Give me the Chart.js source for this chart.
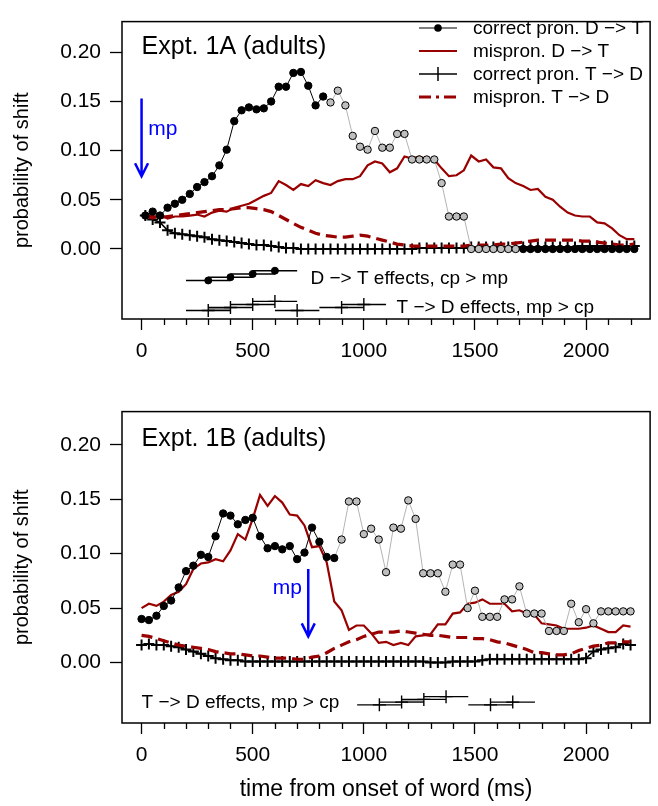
<!DOCTYPE html>
<html>
<head>
<meta charset="utf-8">
<script src="https://cdn.jsdelivr.net/npm/chart.js@4/dist/chart.umd.min.js"></script>
<style>
  body { margin: 0; background: #fff; width: 658px; height: 806px; position: relative; overflow: hidden; }
  canvas { position: absolute; left: 0; }
</style>
</head>
<body>
<canvas id="c1" width="658" height="375" style="top:0"></canvas>
<canvas id="c2" width="658" height="416" style="top:390px"></canvas>
<script>
// ---- data, Expt. 1A (frames centred on 33 ms bins) ----
const timesA = [17,50,83,117,150,183,217,250,283,317,
  350,383,417,450,483,517,550,583,617,650,
  683,717,750,783,817,850,883,917,950,983,
  1017,1050,1083,1117,1150,1183,1217,1250,1283,1317,
  1350,1383,1417,1450,1483,1517,1550,1583,1617,1650,
  1683,1717,1750,1783,1817,1850,1883,1917,1950,1983,
  2017,2050,2083,2117,2150,2183,2217];
const cpDtoT_A = [.034,.038,.034,.042,.046,.050,.056,.063,.068,.074,
  .085,.101,.130,.141,.144,.142,.143,.150,.165,.165,
  .179,.180,.166,.146,.155,.149,.161,.146,.115,.104,
  .101,.120,.103,.103,.117,.117,.091,.091,.091,.091,
  .067,.033,.033,.033,0,0,0,0,0,0,
  0,0,0,0,0,0,0,0,0,0,
  0,0,0,0,0,0,0];
const sigA = [1,1,1,1,1,1,1,1,1,1, 1,1,1,1,1,1,1,1,1,1, 1,1,1,1,1,0,0,0,0,0,
  0,0,0,0,0,0,0,0,0,0, 0,0,0,0,0,0,0,0,0,0, 0,1,1,1,1,1,1,1,1,1, 1,1,1,1,1,1,1];
const mpDtoT_A = [.033,.031,.035,.031,.033,.033,.034,.035,.033,.037,
  .039,.038,.042,.044,.046,.050,.054,.057,.069,.065,
  .060,.066,.064,.070,.067,.065,.069,.071,.071,.074,
  .085,.089,.087,.078,.082,.094,.092,.094,.091,.091,
  .082,.074,.075,.080,.095,.089,.091,.083,.082,.072,
  .067,.064,.060,.061,.053,.050,.043,.037,.034,.033,
  .033,.027,.026,.021,.014,.010,.010];
const cpTtoD_A = [.034,.030,.027,.019,.016,.015,.014,.013,.012,.010,
  .009,.008,.007,.006,.005,.004,.004,.003,.002,.001,
  .001,0,0,0,0,0,0,0,0,0,
  0,0,0,0,0,0,0,.001,.001,.001,
  .001,.001,.001,.001,.002,.002,.002,.002,.002,.002,
  .002,.002,.002,.002,.002,.002,.002,.002,.002,.003,
  .003,.003,.003,.003,.003,.003,.003];
const mpTtoD_A = [.034,.033,.032,.033,.034,.035,.036,.037,.038,.039,
  .040,.040,.041,.042,.042,.041,.040,.038,.034,.030,
  .026,.022,.019,.016,.014,.013,.012,.012,.013,.014,
  .013,.011,.009,.007,.005,.004,.003,.003,.003,.003,
  .003,.003,.003,.003,.004,.004,.004,.004,.005,.005,
  .006,.007,.008,.009,.009,.009,.009,.009,.009,.008,
  .008,.007,.006,.005,.004,.004,.005];

// ---- data, Expt. 1B ----
const timesB = [0,33,67,100,133,167,200,233,267,300,
  333,367,400,433,467,500,533,567,600,633,
  667,700,733,767,800,833,867,900,933,967,
  1000,1033,1067,1100,1133,1167,1200,1233,1267,1300,
  1333,1367,1400,1433,1467,1500,1533,1567,1600,1633,
  1667,1700,1733,1767,1800,1833,1867,1900,1933,1967,
  2000,2033,2067,2100,2133,2167,2200];
const cpDtoT_B = [.040,.039,.043,.052,.057,.069,.084,.089,.099,.097,
  .116,.137,.135,.127,.131,.133,.116,.105,.107,.104,
  .107,.095,.101,.124,.111,.097,.096,.113,.148,.148,
  .118,.123,.113,.083,.124,.123,.149,.132,.082,.082,
  .082,.065,.090,.090,.050,.066,.042,.042,.042,.058,
  .058,.070,.045,.045,.045,.029,.029,.029,.054,.037,
  .049,.036,.047,.047,.047,.047,.047];
const sigB = [1,1,1,1,1,1,1,1,1,1, 1,1,1,1,1,1,1,1,1,1, 1,1,1,1,1,1,1,0,0,0,
  0,0,0,0,0,0,0,0,0,0, 0,0,0,0,0,0,0,0,0,0, 0,0,0,0,0,0,0,0,0,0, 0,0,0,0,0,0,0];
const mpDtoT_B = [.050,.054,.052,.056,.062,.065,.072,.086,.091,.092,
  .095,.093,.103,.118,.113,.132,.154,.144,.153,.147,
  .136,.135,.126,.106,.107,.092,.056,.048,.030,.034,
  .034,.027,.018,.019,.016,.018,.016,.024,.025,.026,
  .035,.035,.045,.046,.054,.055,.058,.054,.054,.054,
  .047,.048,.045,.044,.036,.035,.034,.031,.031,.031,
  .032,.034,.031,.028,.028,.034,.033];
const cpTtoD_B = [.016,.017,.016,.016,.015,.014,.012,.010,.008,.006,
  .004,.003,.002,.002,.001,.001,.001,.001,.001,.001,
  .001,.001,.001,.001,.001,.001,.001,.001,.001,.001,
  .001,.001,.001,.001,.001,.001,.001,.001,.001,0,
  0,0,.001,.001,.001,.001,.002,.003,.003,.003,
  .003,.003,.003,.003,.003,.003,.003,.003,.003,.003,
  .004,.010,.012,.013,.014,.017,.016];
const mpTtoD_B = [.025,.024,.022,.020,.018,.016,.015,.014,.013,.012,
  .010,.009,.008,.008,.007,.006,.006,.005,.004,.004,
  .004,.003,.003,.005,.006,.009,.013,.016,.019,.021,
  .024,.026,.028,.028,.028,.029,.028,.027,.026,.025,
  .025,.024,.023,.023,.023,.022,.022,.021,.019,.018,
  .016,.014,.012,.009,.009,.008,.007,.007,.008,.011,
  .013,.015,.016,.018,.018,.019,.019];

// significant windows (ms)
const dtEffStartA = [200,300,400,500];
const dtEffEndA   = [400,500,600,700];
const dtEffMidA   = [300,400,500,600];
const tdEffStartA = [200,300,400,500,600,800,900];
const tdEffEndA   = [400,500,600,700,800,1000,1100];
const tdEffMidA   = [300,400,500,600,700,900,1000];
const tdShadeA    = [300,400];
const tdEffStartB = [970,1070,1170,1270,1470,1570];
const tdEffEndB   = [1170,1270,1370,1470,1670,1770];
const tdEffMidB   = [1070,1170,1270,1370,1570,1670];
const tdShadeB    = [1170,1270];

// mp onset arrows: [time, from, to]
const arrowA = [0, 0.153, 0.074];
const arrowB = [750, 0.086, 0.024];

const xMajor = [0,500,1000,1500,2000];
const xMinor = [100,200,300,400,600,700,800,900,1100,1200,1300,1400,1600,1700,1800,1900,2100,2200];
const yTicks = [0,0.05,0.10,0.15,0.20];

const legendLabels = ['correct pron. D \u2212> T','mispron. D \u2212> T','correct pron. T \u2212> D','mispron. T \u2212> D'];

// ---- styles ----
const BLACK = '#000', GRAY = '#bebebe', GRAYLINE = '#b4b4b4', RED = '#990000', BLUE = '#0000ff';
const FONT = '"Liberation Sans", Arial, Helvetica, sans-serif';
Chart.defaults.font.family = FONT;
Chart.defaults.color = '#000';

const pts = (xs, ys) => xs.map((x, i) => ({x, y: ys[i]}));

function seriesSets(times, cpDT, sig, mpDT, cpTD, mpTD) {
  return [
    {data: pts(times, cpDT), borderColor: BLACK, borderWidth: 1, pointRadius: 3.7,
     pointBorderWidth: 1, pointBorderColor: BLACK,
     pointBackgroundColor: sig.map(s => s ? BLACK : GRAY),
     segment: {borderColor: c => (sig[c.p0DataIndex] && sig[c.p1DataIndex]) ? BLACK : GRAYLINE},
     order: 0},
    {data: pts(times, mpDT), borderColor: RED, borderWidth: 2.2, pointRadius: 0, order: 1},
    {data: pts(times, mpTD), borderColor: RED, borderWidth: 3.2, borderDash: [11, 6], pointRadius: 0, order: 2},
    {data: pts(times, cpTD), borderColor: BLACK, borderWidth: 1.5, pointStyle: 'cross',
     pointRadius: 5.5, pointBorderWidth: 2, pointBorderColor: BLACK, order: 3}
  ];
}

function effectSets(starts, ends, mids, base, step, marker, shade) {
  const lv = i => base + (i % 4) * step;
  const sets = starts.map((s, i) => ({
    data: [{x: s, y: lv(i)}, {x: ends[i], y: lv(i)}],
    borderColor: BLACK, borderWidth: 1.4, pointRadius: 0, order: 5
  }));
  sets.push({
    data: mids.map((m, i) => ({x: m, y: lv(i)})), showLine: false,
    pointStyle: marker === 'dot' ? 'circle' : 'cross',
    pointRadius: marker === 'dot' ? 3.5 : 6.5, pointBorderWidth: marker === 'dot' ? 1 : 1.4,
    pointBorderColor: BLACK, pointBackgroundColor: BLACK, order: 4
  });
  if (shade) {
    const k = starts.indexOf(shade[0]) - 1;
    sets.push({
      data: [{x: shade[0], y: lv(k)}, {x: shade[1], y: lv(k)}],
      fill: {value: lv(k + 1)}, backgroundColor: '#a8a8a8', borderWidth: 0, pointRadius: 0, order: 6
    });
  }
  return sets;
}

function drawArrow(ctx, x, y0, y1) {
  ctx.strokeStyle = BLUE; ctx.lineWidth = 2.5;
  ctx.beginPath();
  ctx.moveTo(x, y0); ctx.lineTo(x, y1);
  ctx.moveTo(x - 6.5, y1 - 13); ctx.lineTo(x, y1); ctx.lineTo(x + 6.5, y1 - 13);
  ctx.stroke();
}

const decor = {
  id: 'decor',
  afterDraw(chart, args, o) {
    const {ctx, chartArea: a, scales: {x, y}} = chart;
    ctx.save();
    ctx.strokeStyle = BLACK; ctx.lineWidth = 1.5;
    ctx.strokeRect(a.left, a.top, a.right - a.left, a.bottom - a.top);
    // minor x ticks
    ctx.lineWidth = 1.3;
    ctx.beginPath();
    xMinor.forEach(v => {
      const px = Math.round(x.getPixelForValue(v)) + 0.5;
      ctx.moveTo(px, a.bottom); ctx.lineTo(px, a.bottom + 6);
    });
    ctx.stroke();
    // panel title
    ctx.fillStyle = BLACK; ctx.textBaseline = 'middle'; ctx.textAlign = 'left';
    ctx.font = '25px ' + FONT;
    ctx.fillText(o.title, x.getPixelForValue(0), y.getPixelForValue(0.205));
    // mp arrow
    const ar = o.arrow;
    drawArrow(ctx, x.getPixelForValue(ar[0]), y.getPixelForValue(ar[1]), y.getPixelForValue(ar[2]));
    ctx.fillStyle = BLUE; ctx.font = '21px ' + FONT;
    ctx.textAlign = o.mpAlign;
    ctx.fillText('mp', x.getPixelForValue(o.mpPos[0]), y.getPixelForValue(o.mpPos[1]));
    // effect labels
    ctx.fillStyle = BLACK; ctx.font = '19px ' + FONT; ctx.textAlign = 'left';
    o.labels.forEach(l => ctx.fillText(l[0], x.getPixelForValue(l[1]), y.getPixelForValue(l[2])));
    // legend
    if (o.legend) {
      const x0 = 419, x1 = 457, tx = 473, rows = [28, 51, 74, 97];
      ctx.font = '19px ' + FONT;
      rows.forEach((ry, i) => {
        ctx.beginPath();
        ctx.setLineDash(i === 3 ? [12, 5, 3, 5] : []);
        ctx.strokeStyle = (i === 1 || i === 3) ? RED : BLACK;
        ctx.lineWidth = [1.2, 2.2, 1.5, 3.2][i];
        ctx.moveTo(x0, ry); ctx.lineTo(x1, ry); ctx.stroke();
        ctx.setLineDash([]);
        const cx = (x0 + x1) / 2;
        if (i === 0) { ctx.fillStyle = BLACK; ctx.beginPath(); ctx.arc(cx, ry, 3.8, 0, Math.PI * 2); ctx.fill(); }
        if (i === 2) { ctx.lineWidth = 1.5; ctx.beginPath(); ctx.moveTo(cx, ry - 7); ctx.lineTo(cx, ry + 7); ctx.stroke(); }
        ctx.fillStyle = BLACK;
        ctx.fillText(legendLabels[i], tx, ry + 1);
      });
    }
    ctx.restore();
  }
};

function makeChart(id, sets, yMin, yMax, padTop, xHeight, xTitle, opts) {
  return new Chart(document.getElementById(id), {
    type: 'line',
    data: {datasets: sets},
    options: {
      responsive: false, animation: false, events: [],
      layout: {padding: {top: padTop, right: 7, left: 0, bottom: 0}},
      elements: {line: {tension: 0, fill: false}},
      plugins: {legend: {display: false}, tooltip: {enabled: false}, decor: opts},
      scales: {
        x: {
          type: 'linear', min: -88, max: 2288,
          afterBuildTicks: s => { s.ticks = xMajor.map(v => ({value: v})); },
          afterFit: s => { s.height = xHeight; },
          ticks: {font: {size: 21}, padding: 9, maxRotation: 0, callback: v => String(v)},
          grid: {drawOnChartArea: false, tickLength: 11, tickWidth: 1.3, tickColor: BLACK},
          border: {display: false},
          title: {display: !!xTitle, text: xTitle || '', font: {size: 23}, padding: {top: 4, bottom: 3}}
        },
        y: {
          min: yMin, max: yMax,
          afterBuildTicks: s => { s.ticks = yTicks.map(v => ({value: v})); },
          afterFit: s => { s.width = 122; },
          ticks: {font: {size: 21}, padding: 9, callback: v => v.toFixed(2)},
          grid: {drawOnChartArea: false, tickLength: 12, tickWidth: 1.3, tickColor: BLACK},
          border: {display: false},
          title: {display: true, text: 'probability of shift', font: {size: 20}, padding: {top: 10}}
        }
      }
    },
    plugins: [decor]
  });
}

makeChart('c1',
  seriesSets(timesA, cpDtoT_A, sigA, mpDtoT_A, cpTtoD_A, mpTtoD_A)
    .concat(effectSets(dtEffStartA, dtEffEndA, dtEffMidA, -0.032, 0.0033, 'dot'))
    .concat(effectSets(tdEffStartA, tdEffEndA, tdEffMidA, -0.0626, 0.0031, 'cross', tdShadeA)),
  -0.0712, 0.2312, 4, 56, null,
  {title: 'Expt. 1A (adults)', arrow: arrowA, mpPos: [30, 0.1215], mpAlign: 'left', legend: true,
   labels: [['D \u2212> T effects, cp > mp', 760, -0.0307], ['T \u2212> D effects, mp > cp', 1147, -0.0595]]});

makeChart('c2',
  seriesSets(timesB, cpDtoT_B, sigB, mpDtoT_B, cpTtoD_B, mpTtoD_B)
    .concat(effectSets(tdEffStartB, tdEffEndB, tdEffMidB, -0.0389, 0.0025, 'cross', tdShadeB)),
  -0.0556, 0.2306, 18, 83, 'time from onset of word (ms)',
  {title: 'Expt. 1B (adults)', arrow: arrowB, mpPos: [722, 0.068], mpAlign: 'right', legend: false,
   labels: [['T \u2212> D effects, mp > cp', 0, -0.0371]]});
</script>
</body>
</html>
